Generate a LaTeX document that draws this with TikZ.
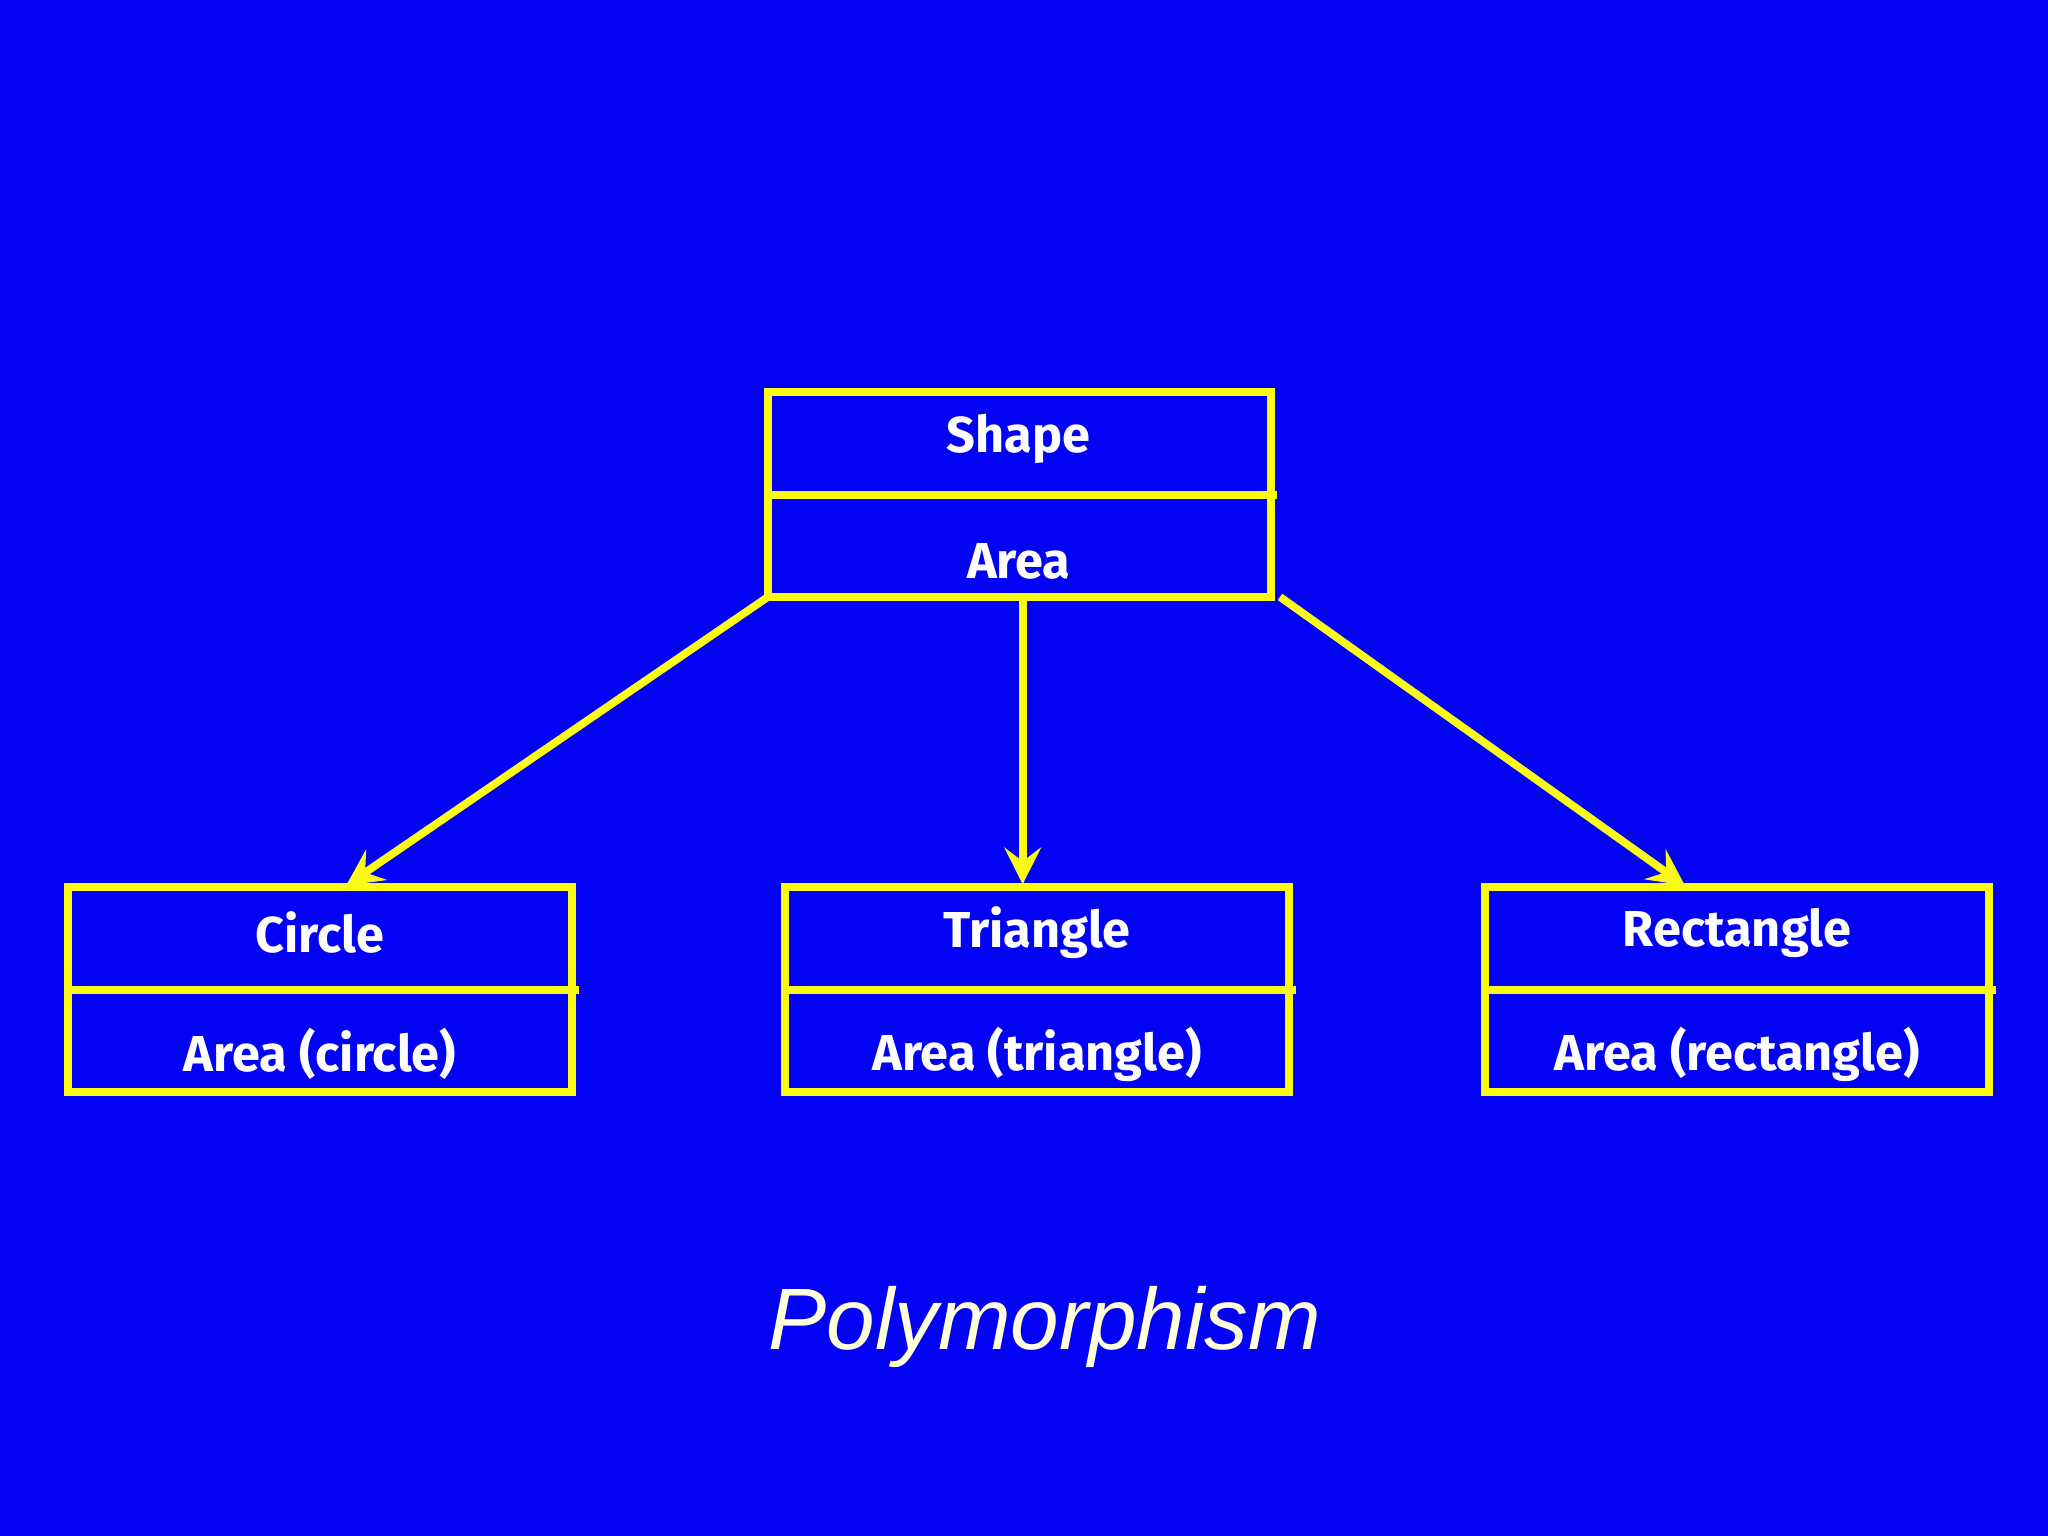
\documentclass[tikz,border=0pt]{standalone}
\usepackage{fontspec}
\setmainfont{Fira Sans}
\newfontfamily\titlefont{Liberation Sans}
\usetikzlibrary{arrows.meta,calc}
\definecolor{bg}{RGB}{2,2,245}
\definecolor{yel}{RGB}{250,250,20}
\definecolor{cream}{RGB}{255,255,220}
\begin{document}
\begin{tikzpicture}[x=0.02cm,y=-0.02cm,
  box/.style={draw=yel,line width=3.4pt},
  lbl/.style={text=white,font=\fontsize{22}{24}\selectfont\bfseries},
  conn/.style={draw=yel,line width=3.4pt,-{Stealth[length=16pt,width=16pt,inset=6pt]}}]
\fill[bg] (0,0) rectangle (1568,1176);
\useasboundingbox (0,0) rectangle (1568,1176);
% Shape
\draw[box] (588,300) rectangle (973,457);
\draw[box] (588,379) -- (978,379);
\node[lbl] (s1) at (780,336) {Shape};
\node[lbl] (s2) at (780,430) {Area};
\coordinate (sl) at (588,457);
\coordinate (sm) at (783,460);
\coordinate (sr) at (980,457);
% children
\foreach \n/\x/\t/\b in {c/52/Circle/Area (circle),t/601/Triangle/Area (triangle),r/1137/Rectangle/Area (rectangle)}{
  \draw[box] (\x,679) rectangle ++(386,157);
  \draw[box] (\x,758) -- ++(391,0);
  \node[lbl] (\n1) at ($(\x,714)+(193,0)$) {\t};
  \node[lbl] (\n2) at ($(\x,807)+(193,0)$) {\b};
}
\coordinate (ct) at (265,678);
\coordinate (tt) at (783,677);
\coordinate (rt) at (1290,678);
\draw[conn] (sl) -- (ct);
\draw[conn] (sm) -- (tt);
\draw[conn] (sr) -- (rt);
\node[text=cream,font=\titlefont\fontsize{38}{42}\selectfont\itshape] (title) at (800,1016) {Polymorphism};
\end{tikzpicture}
\end{document}
